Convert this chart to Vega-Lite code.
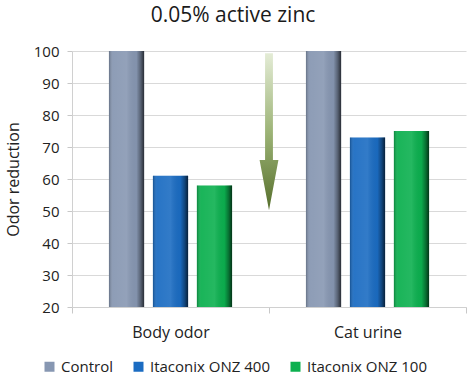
{
  "$schema": "https://vega.github.io/schema/vega-lite/v6.json",
  "width": 394,
  "height": 256,
  "autosize": {"type": "none"},
  "padding": {"left": 72, "top": 51, "right": 5, "bottom": 70},
  "background": "white",
  "title": {
    "text": "0.05% active zinc",
    "fontSize": 21,
    "fontWeight": "normal",
    "font": "Open Sans",
    "color": "#1a1a1a",
    "anchor": "middle",
    "frame": "group",
    "dx": -36,
    "offset": 18
  },
  "config": {
    "font": "Open Sans",
    "view": {"stroke": null}
  },
  "datasets": {
    "bars": [
      {"group": "Body odor", "series": "Control", "value": 100},
      {"group": "Body odor", "series": "Itaconix ONZ 400", "value": 61},
      {"group": "Body odor", "series": "Itaconix ONZ 100", "value": 58},
      {"group": "Cat urine", "series": "Control", "value": 100},
      {"group": "Cat urine", "series": "Itaconix ONZ 400", "value": 73},
      {"group": "Cat urine", "series": "Itaconix ONZ 100", "value": 75}
    ],
    "arrow": [{"group": "Body odor", "value": 74.8}]
  },
  "layer": [
    {
      "data": {"name": "bars"},
      "mark": {"type": "bar"},
      "encoding": {
        "x": {
          "field": "group", "type": "nominal", "sort": ["Body odor", "Cat urine"],
          "scale": {"paddingInner": 0, "paddingOuter": 0},
          "axis": {
            "title": null, "labelAngle": 0, "labelFontSize": 16, "labelColor": "#222",
            "tickBand": "extent", "tickSize": 6, "tickColor": "#c8c8c8",
            "domainColor": "#d0d0d0", "labelPadding": 11
          }
        },
        "xOffset": {
          "field": "series", "type": "nominal",
          "sort": ["Control", "Itaconix ONZ 400", "Itaconix ONZ 100"],
          "scale": {"paddingInner": 0.2, "paddingOuter": 0.84}
        },
        "y": {
          "field": "value", "type": "quantitative",
          "scale": {"domain": [20, 100], "nice": false, "zero": false},
          "axis": {
            "values": [20, 30, 40, 50, 60, 70, 80, 90, 100],
            "title": "Odor reduction", "titleFontSize": 16, "titleFontWeight": "normal",
            "titleColor": "#222", "titlePadding": 12,
            "labelFontSize": 15, "labelColor": "#222", "labelPadding": 8,
            "tickSize": 5, "tickColor": "#c8c8c8", "domainColor": "#d0d0d0",
            "gridColor": "#d9d9d9", "grid": true
          }
        },
        "y2": {"datum": 20},
        "color": {
          "field": "series", "type": "nominal",
          "sort": ["Control", "Itaconix ONZ 400", "Itaconix ONZ 100"],
          "scale": {"range": ["#8797b2", "#1b6cc2", "#0cb04f"]},
          "legend": {
            "title": null, "orient": "none", "direction": "horizontal",
            "legendX": -30, "legendY": 308,
            "symbolType": "square", "symbolSize": 100, "symbolStrokeWidth": 0,
            "labelFontSize": 15, "labelColor": "#222", "labelOffset": 4,
            "columnPadding": 18
          }
        }
      }
    },
    {
      "data": {"name": "bars"},
      "mark": {
        "type": "bar",
        "fill": {
          "gradient": "linear", "x1": 0, "y1": 0, "x2": 1, "y2": 0,
          "stops": [
            {"offset": 0, "color": "rgba(0,0,0,0.25)"},
            {"offset": 0.12, "color": "rgba(255,255,255,0.06)"},
            {"offset": 0.5, "color": "rgba(255,255,255,0.1)"},
            {"offset": 0.78, "color": "rgba(0,0,0,0.03)"},
            {"offset": 0.9, "color": "rgba(0,0,0,0.35)"},
            {"offset": 1, "color": "rgba(0,0,0,0.7)"}
          ]
        }
      },
      "encoding": {
        "x": {
          "field": "group", "type": "nominal", "sort": ["Body odor", "Cat urine"],
          "scale": {"paddingInner": 0, "paddingOuter": 0},
          "axis": {
            "title": null, "labelAngle": 0, "labelFontSize": 16, "labelColor": "#222",
            "tickBand": "extent", "tickSize": 6, "tickColor": "#c8c8c8",
            "domainColor": "#d0d0d0", "labelPadding": 11
          }
        },
        "xOffset": {
          "field": "series", "type": "nominal",
          "sort": ["Control", "Itaconix ONZ 400", "Itaconix ONZ 100"],
          "scale": {"paddingInner": 0.2, "paddingOuter": 0.84}
        },
        "y": {
          "field": "value", "type": "quantitative",
          "scale": {"domain": [20, 100], "nice": false, "zero": false},
          "axis": {
            "values": [20, 30, 40, 50, 60, 70, 80, 90, 100],
            "title": "Odor reduction", "titleFontSize": 16, "titleFontWeight": "normal",
            "titleColor": "#222", "titlePadding": 12,
            "labelFontSize": 15, "labelColor": "#222", "labelPadding": 8,
            "tickSize": 5, "tickColor": "#c8c8c8", "domainColor": "#d0d0d0",
            "gridColor": "#d9d9d9", "grid": true
          }
        },
        "y2": {"datum": 20}
      }
    },
    {
      "data": {"name": "arrow"},
      "mark": {
        "type": "point",
        "filled": true,
        "opacity": 1,
        "size": 24649,
        "shape": "M-0.05,-1 L0.05,-1 L0.05,0.36 L0.12,0.36 L0,1 L-0.12,0.36 L-0.05,0.36 Z",
        "fill": {
          "gradient": "linear", "x1": 0, "y1": 0, "x2": 0, "y2": 1,
          "stops": [
            {"offset": 0, "color": "#e4ecd6"},
            {"offset": 0.5, "color": "#9db477"},
            {"offset": 1, "color": "#566f2c"}
          ]
        }
      },
      "encoding": {
        "x": {
          "field": "group", "type": "nominal", "sort": ["Body odor", "Cat urine"], "bandPosition": 1,
          "scale": {"paddingInner": 0, "paddingOuter": 0},
          "axis": {
            "title": null, "labelAngle": 0, "labelFontSize": 16, "labelColor": "#222",
            "tickBand": "extent", "tickSize": 6, "tickColor": "#c8c8c8",
            "domainColor": "#d0d0d0", "labelPadding": 11
          }
        },
        "y": {
          "field": "value", "type": "quantitative",
          "scale": {"domain": [20, 100], "nice": false, "zero": false},
          "axis": {
            "values": [20, 30, 40, 50, 60, 70, 80, 90, 100],
            "title": "Odor reduction", "titleFontSize": 16, "titleFontWeight": "normal",
            "titleColor": "#222", "titlePadding": 12,
            "labelFontSize": 15, "labelColor": "#222", "labelPadding": 8,
            "tickSize": 5, "tickColor": "#c8c8c8", "domainColor": "#d0d0d0",
            "gridColor": "#d9d9d9", "grid": true
          }
        }
      }
    }
  ]
}
